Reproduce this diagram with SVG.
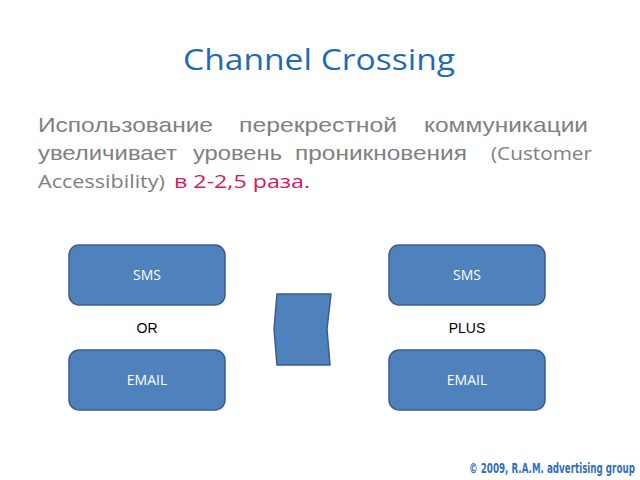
<svg xmlns="http://www.w3.org/2000/svg" width="640" height="480" viewBox="0 0 640 480">
<style>
.box{fill:#4f81bd;stroke:#385d8a;stroke-width:1.5}
.bt{font-family:"Open Sans","Noto Sans",sans-serif;font-size:14px;fill:#ffffff;text-anchor:middle}
.lab{font-family:"Liberation Sans",Arial,sans-serif;font-size:14px;fill:#000000;text-anchor:middle}
.body{font-family:"Liberation Sans",Arial,sans-serif;font-size:21px;fill:#808080}
.cal{font-family:"Open Sans","Noto Sans",sans-serif;font-size:19px;fill:#808080}
.red{font-family:"Open Sans","Noto Sans",sans-serif;font-size:19px;fill:#d6195a}
</style>
<rect width="640" height="480" fill="#ffffff"/>
<text x="183" y="70" font-family="'Open Sans','Noto Sans',sans-serif" font-size="29" fill="#1f6bb0" textLength="272" lengthAdjust="spacingAndGlyphs">Channel Crossing</text>
<g id="body-text">
<text class="body" x="38" y="132" textLength="175" lengthAdjust="spacingAndGlyphs">Использование</text>
<text class="body" x="239" y="132" textLength="158" lengthAdjust="spacingAndGlyphs">перекрестной</text>
<text class="body" x="424" y="132" textLength="164" lengthAdjust="spacingAndGlyphs">коммуникации</text>
<text class="body" x="38" y="160" textLength="139" lengthAdjust="spacingAndGlyphs">увеличивает</text>
<text class="body" x="193" y="160" textLength="89" lengthAdjust="spacingAndGlyphs">уровень</text>
<text class="body" x="295" y="160" textLength="172" lengthAdjust="spacingAndGlyphs">проникновения</text>
<text class="cal" x="491" y="160" textLength="101" lengthAdjust="spacingAndGlyphs">(Customer</text>
<text class="cal" x="38" y="188" textLength="127" lengthAdjust="spacingAndGlyphs">Accessibility)</text>
<text class="red" x="174" y="188" textLength="136" lengthAdjust="spacingAndGlyphs">в 2-2,5 раза.</text>
</g>
<g id="sms-left">
<rect class="box" x="69" y="245" width="156" height="60" rx="10"/>
<text class="bt" x="147" y="280">SMS</text>
</g>
<g id="or-label"><text class="lab" x="147" y="333">OR</text></g>
<g id="email-left">
<rect class="box" x="69" y="350" width="156" height="60" rx="10"/>
<text class="bt" x="147" y="385">EMAIL</text>
</g>
<g id="chevron">
<polygon class="box" points="277,294 331,294 327,329 330,365 277,365 274,329"/>
</g>
<g id="sms-right">
<rect class="box" x="389" y="245" width="156" height="60" rx="10"/>
<text class="bt" x="467" y="280">SMS</text>
</g>
<g id="plus-label"><text class="lab" x="467" y="333">PLUS</text></g>
<g id="email-right">
<rect class="box" x="389" y="350" width="156" height="60" rx="10"/>
<text class="bt" x="467" y="385">EMAIL</text>
</g>
<g id="connectors"/>
<text transform="translate(469,473) scale(0.7,1)" x="0" y="0" font-family="'DejaVu Sans Condensed','DejaVu Sans',sans-serif" font-weight="bold" font-size="14" fill="#2f6fbf" textLength="237" lengthAdjust="spacingAndGlyphs">© 2009, R.A.M. advertising group</text>
</svg>
